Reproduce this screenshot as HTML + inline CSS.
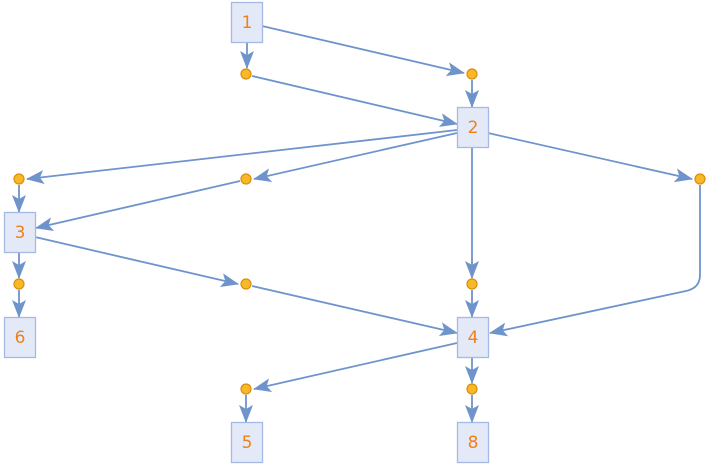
<!DOCTYPE html>
<html><head><style>body{margin:0;background:#fff}svg{display:block}</style></head><body>
<svg width="720" height="466" viewBox="0 0 720 466" xmlns="http://www.w3.org/2000/svg">
<defs><marker id="a" markerUnits="userSpaceOnUse" markerWidth="18" markerHeight="14" refX="17" refY="7" orient="auto"><path d="M0,0 L18,7 L0,14 L4,7 Z" fill="#6f94cc"/></marker></defs>
<g stroke="#6f94cc" stroke-width="1.8" fill="none" marker-end="url(#a)">
<line x1="262" y1="26" x2="464" y2="73"/>
<line x1="247" y1="43" x2="247" y2="68"/>
<line x1="252" y1="76" x2="457" y2="124"/>
<line x1="472" y1="80" x2="472" y2="107"/>
<line x1="457" y1="130" x2="27" y2="179"/>
<line x1="457" y1="133" x2="254" y2="179"/>
<line x1="488" y1="133" x2="692" y2="179"/>
<line x1="472" y1="148" x2="472" y2="278"/>
<line x1="19" y1="185" x2="19" y2="212"/>
<line x1="240" y1="181" x2="36" y2="228"/>
<line x1="19" y1="253" x2="19" y2="278"/>
<line x1="35" y1="237" x2="238" y2="284"/>
<line x1="19" y1="290" x2="19" y2="317"/>
<line x1="252" y1="286" x2="457" y2="333"/>
<line x1="472" y1="290" x2="472" y2="317"/>
<path d="M700,185 V275 Q700,288 686,291 L490,333"/>
<line x1="457" y1="343" x2="254" y2="389"/>
<line x1="472" y1="358" x2="472" y2="383"/>
<line x1="246" y1="395" x2="246" y2="422"/>
<line x1="472" y1="395" x2="472" y2="422"/>
</g>
<g fill="#e3e9f7" stroke="#a6b9e4" stroke-width="1.3">
<rect x="231.5" y="2.5" width="31" height="40"/>
<rect x="457.5" y="107.5" width="31" height="40"/>
<rect x="4.5" y="212.5" width="31" height="40"/>
<rect x="457.5" y="317.5" width="31" height="40"/>
<rect x="4.5" y="317.5" width="31" height="40"/>
<rect x="231.5" y="422.5" width="31" height="40"/>
<rect x="457.5" y="422.5" width="31" height="40"/>
</g>
<g fill="#f7b928" stroke="#dc8e0a" stroke-width="1.2">
<circle cx="246" cy="74" r="5"/><circle cx="472" cy="74" r="5"/>
<circle cx="19" cy="179" r="5"/><circle cx="246" cy="179" r="5"/><circle cx="700" cy="179" r="5"/>
<circle cx="19" cy="284" r="5"/><circle cx="246" cy="284" r="5"/><circle cx="472" cy="284" r="5"/>
<circle cx="246" cy="389" r="5"/><circle cx="472" cy="389" r="5"/>
</g>
<g fill="#f0801a" font-family="'DejaVu Sans','Liberation Sans',sans-serif" font-size="17" text-anchor="middle">
<text x="247" y="28">1</text><text x="473" y="133">2</text><text x="20" y="238">3</text>
<text x="473" y="343">4</text><text x="20" y="343">6</text><text x="247" y="448">5</text><text x="473" y="448">8</text>
</g>
</svg>
</body></html>
